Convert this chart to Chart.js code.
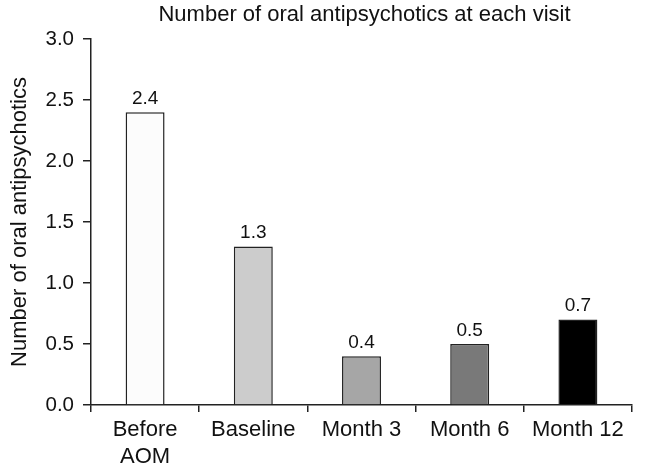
<!DOCTYPE html>
<html>
<head>
<meta charset="utf-8">
<script src="https://cdn.jsdelivr.net/npm/chart.js@4"></script>
<style>
  html, body { margin: 0; padding: 0; background: #fff; }
  #wrap { width: 646px; height: 474px; }
</style>
</head>
<body>
<div id="wrap"><canvas id="chart" width="646" height="474"></canvas></div>
<script>
// Data
var visits = [['Before', 'AOM'], 'Baseline', 'Month 3', 'Month 6', 'Month 12'];
var meanCount = [2.4, 1.3, 0.4, 0.5, 0.7];
var barColors = ['#fcfcfc', '#cccccc', '#a6a6a6', '#797979', '#000000'];
var chartTitle = 'Number of oral antipsychotics at each visit';

var FONT = '"Liberation Sans", Arial, sans-serif';

// value labels above each bar + title centred over the plot area
var annotate = {
    id: 'annotate',
    afterDatasetsDraw: function (chart) {
        var ctx = chart.ctx;
        var area = chart.chartArea;
        var meta = chart.getDatasetMeta(0);
        ctx.save();
        ctx.fillStyle = '#111';
        ctx.textAlign = 'center';
        ctx.textBaseline = 'alphabetic';
        ctx.font = '19px ' + FONT;
        meta.data.forEach(function (bar, i) {
            ctx.fillText(meanCount[i].toFixed(1), bar.x, bar.y - 8.5);
        });
        ctx.font = '22px ' + FONT;
        ctx.fillText(chartTitle, (area.left + area.right) / 2 + 3, 21);
        ctx.restore();
    }
};

new Chart(document.getElementById('chart'), {
    type: 'bar',
    data: {
        labels: visits,
        datasets: [{
            data: meanCount,
            backgroundColor: barColors,
            borderColor: '#222',
            borderWidth: 1.5,
            categoryPercentage: 1,
            barPercentage: 0.36
        }]
    },
    options: {
        responsive: false,
        animation: false,
        layout: { padding: { left: 0, right: 14, top: 39, bottom: 0 } },
        plugins: {
            legend: { display: false },
            tooltip: { enabled: false }
        },
        scales: {
            y: {
                min: 0,
                max: 3,
                ticks: {
                    stepSize: 0.5,
                    color: '#111',
                    padding: 9,
                    font: { family: FONT, size: 20.5 },
                    callback: function (v) { return v.toFixed(1); }
                },
                grid: { drawOnChartArea: false, tickLength: 8, color: '#222', lineWidth: 1.5 },
                border: { color: '#222', width: 1.5 },
                title: {
                    display: true,
                    text: 'Number of oral antipsychotics',
                    color: '#111',
                    font: { family: FONT, size: 22 },
                    padding: { top: 7, bottom: 0 }
                },
                afterFit: function (scale) { scale.width = 91; }
            },
            x: {
                ticks: {
                    color: '#111',
                    padding: 5,
                    font: { family: FONT, size: 22 },
                    maxRotation: 0
                },
                grid: { drawOnChartArea: false, tickLength: 7, color: '#222', lineWidth: 1.5, offset: true },
                border: { color: '#222', width: 1.5 },
                afterFit: function (scale) { scale.height = 69; }
            }
        }
    },
    plugins: [annotate]
});
</script>
</body>
</html>
